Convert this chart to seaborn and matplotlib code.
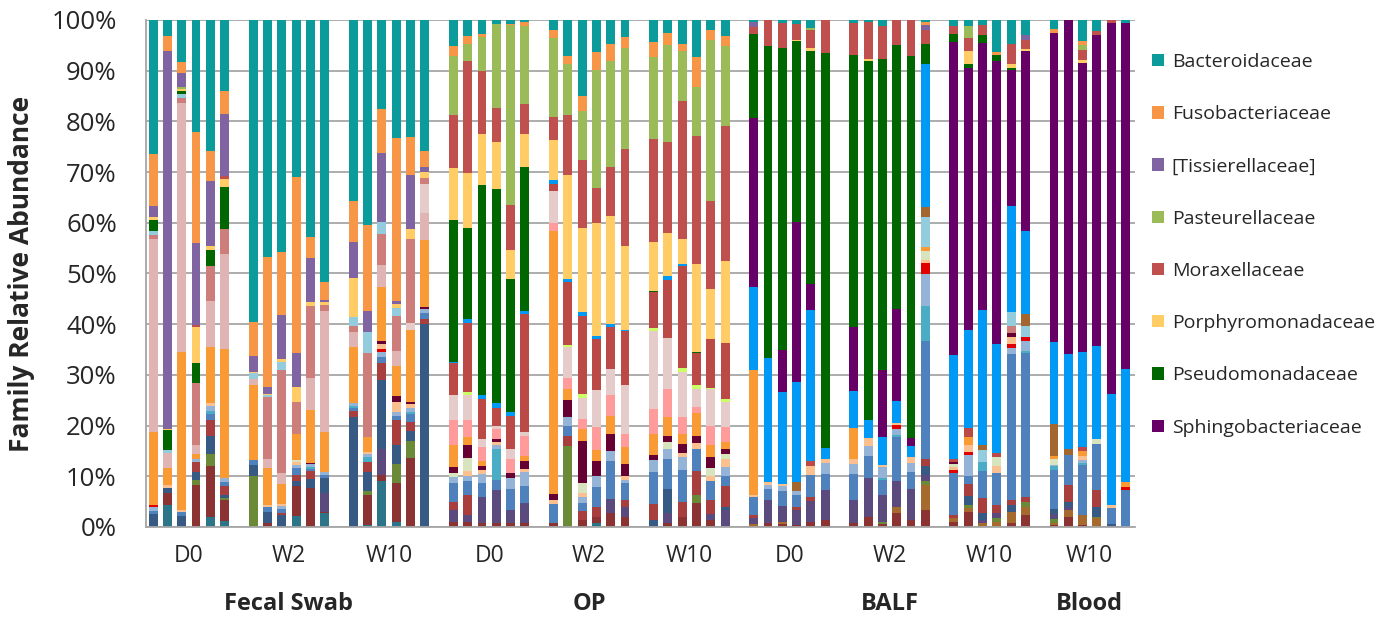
import pandas as pd
import numpy as np
import matplotlib
matplotlib.use("Agg")
import matplotlib.pyplot as plt
import seaborn as sns
from matplotlib.patches import Patch

sns.set_theme(style="white")
plt.rcParams['font.family'] = ['Open Sans', 'DejaVu Sans']

# groups of 6 samples, one empty slot between groups
time_labels = ["D0", "W2", "W10", "D0", "W2", "W10", "D0", "W2", "W10", "W10"]
sample_types = ["Fecal Swab", "OP", "BALF", "Blood"]
type_groups = [[0, 1, 2], [3, 4, 5], [6, 7, 8], [9]]
n_per_group = 6

# families, top of stack first (legend shows the first 8)
families = ["Bacteroidaceae", "Fusobacteriaceae", "[Tissierellaceae]", "Pasteurellaceae",
            "Moraxellaceae", "Porphyromonadaceae", "Pseudomonadaceae", "Sphingobacteriaceae",
            "Flavobacteriaceae", "Neisseriaceae", "Staphylococcaceae", "Corynebacteriaceae",
            "Micrococcaceae", "Lachnospiraceae", "Prevotellaceae", "Clostridiaceae",
            "Streptococcaceae", "Peptostreptococcaceae", "Veillonellaceae", "Carnobacteriaceae",
            "Actinomycetaceae", "Enterobacteriaceae", "Comamonadaceae", "Weeksellaceae",
            "Bradyrhizobiaceae", "Ruminococcaceae", "Erysipelotrichaceae", "Helicobacteraceae",
            "Lactobacillaceae", "Caulobacteraceae", "Coriobacteriaceae", "Other"]
colors = ["#0B9B9B", "#F79646", "#8064A2", "#9BBB59",
          "#C0504D", "#FFCC66", "#006600", "#660066",
          "#0099F5", "#BB4A47", "#CCFF66", "#A3662F",
          "#93CDDD", "#CD7D7A", "#E6CBCB", "#DFB4B2",
          "#FF9B9B", "#FA9A35", "#660033", "#D7E4BD",
          "#FAC090", "#E00000", "#95B3D7", "#4BACC6",
          "#4F81BD", "#A83E3E", "#375A85", "#5A4A7E",
          "#6B8A38", "#A66A2E", "#8B3232", "#2C7487"]

# relative abundance (%) per sample, 60 samples each
bacteroidaceae = [26.3, 3.2, 8.3, 22.1, 25.9, 14.0, 59.7, 46.7, 45.9, 31.0, 42.8, 51.7,
                  35.7, 40.3, 17.5, 23.3, 23.2, 25.9, 5.2, 3.2, 2.8, 0.8, 0.8, 0.3,
                  1.9, 7.2, 15.0, 6.3, 4.7, 3.3, 4.3, 2.5, 4.8, 7.3, 1.9, 3.2,
                  0.4, 0, 0.5, 0.8, 1.5, 0, 0.5, 0.4, 1.2, 0, 0, 0.3,
                  1.2, 1.2, 1.0, 6.3, 4.7, 3.0, 1.7, 0, 4.1, 2.1, 0, 0.5]
fusobacteriaceae = [10.2, 2.9, 2.2, 21.9, 5.8, 4.5, 6.7, 25.7, 12.5, 34.9, 4.2, 3.5,
                    8.1, 16.9, 8.7, 32.1, 7.5, 3.1, 2.0, 1.6, 0.5, 0, 0.2, 0.9,
                    1.6, 1.5, 2.9, 3.5, 3.3, 2.3, 3.0, 2.5, 1.3, 5.9, 2.0, 2.0,
                    0, 0, 0, 0, 0, 0, 0, 0, 0, 0, 0, 0.7,
                    0, 0, 0, 0.7, 0, 0, 0.9, 0, 0.9, 0, 0, 0]
tissierellaceae = [2.2, 73.6, 2.8, 16.2, 12.9, 12.1, 3.1, 1.3, 8.9, 6.7, 8.7, 0.5,
                   7.1, 4.3, 13.7, 0.7, 10.5, 1.0] + [0] * 18 + \
                  [1.0, 0, 0, 0, 0, 0, 0, 0, 0, 0, 0, 0.9,
                   0, 0, 0, 0, 0, 1.0, 0, 0, 0, 0, 0, 0]
pasteurellaceae = [0, 0, 0.3, 0, 0, 0] + [0] * 12 + \
                  [11.6, 3.3, 6.7, 16.5, 35.5, 15.3, 15.7, 10.1, 9.8, 23.3, 20.8, 19.8,
                   16.1, 19.1, 9.9, 9.6, 31.8, 15.6, 0, 0, 0, 0, 0.5, 0,
                   0, 0, 0, 0, 0, 0, 0, 2.3, 0, 0, 0, 0, 0, 0, 0.9, 0, 0, 0]
moraxellaceae = [0, 0, 0, 0.3, 0, 0.7] + [0] * 12 + \
                [10.5, 22.1, 12.5, 6.8, 8.9, 6.0, 4.5, 11.9, 13.3, 6.8, 9.7, 19.1,
                 20.4, 17.9, 27.2, 25.3, 17.3, 26.7, 1.3, 5.2, 5.1, 3.1, 3.6, 6.5,
                 6.5, 7.3, 6.5, 5.0, 7.0, 2.9, 1.6, 2.7, 2.0, 0, 3.9, 1.7,
                 0, 0, 2.0, 0.9, 0.5, 0]
porphyromonadaceae = [0.5, 0.3, 0.5, 7.1, 0.8, 1.6, 0.3, 0.3, 0.6, 2.9, 0.7, 0.5,
                      7.7, 0, 0, 0.7, 2.0, 1.2, 10.3, 10.8, 10.0, 9.2, 5.7, 6.5,
                      8.0, 20.5, 16.7, 22.3, 21.3, 16.5, 9.5, 8.5, 4.8, 17.2, 10.0, 16.2,
                      0, 0, 0, 0.3, 0.5, 0, 0, 0.3, 0, 0, 0, 0,
                      0, 2.5, 0, 0, 0.8, 0.5, 0, 0, 0.5, 0, 0, 0]
pseudomonadaceae = [2.2, 3.9, 0.5, 4.0, 3.0, 8.3] + [0] * 12 + \
                   [28.0, 18.0, 41.5, 42.3, 26.3, 28.5] + [0] * 6 + \
                   [0.3, 0, 0, 0.3, 0, 0, 16.7, 61.5, 59.5, 35.7, 46.0, 77.8,
                    53.5, 71.0, 61.3, 52.0, 75.3, 3.9, 1.5, 0.7, 1.5, 1.0, 0.5, 0] + [0] * 6
sphingobacteriaceae = [0] * 36 + \
                      [33.3, 0, 8.3, 31.5, 5.1, 0, 12.7, 0, 13.1, 18.0, 1.7, 0,
                       61.8, 51.9, 52.7, 55.9, 26.7, 35.5, 61.1, 65.9, 57.1, 61.3, 73.2, 68.2]
flavobacteriaceae = [0] * 18 + \
                    [0.3, 0.7, 0.8, 0.9, 0.7, 0.5, 0.7, 0.5, 0.7, 0.7, 0.5, 0.3,
                     0, 0.8, 0.5, 0, 0, 0, 16.3, 24.5, 18.1, 19.9, 29.8, 2.2,
                     7.3, 3.5, 5.5, 4.5, 2.1, 28.3, 20.5, 19.3, 26.7, 21.6, 21.1, 16.3,
                     16.2, 18.7, 18.9, 18.3, 22.0, 22.4]
neisseriaceae = [0] * 18 + \
                [6.3, 13.7, 8.0, 3.6, 6.7, 23.3, 1.5, 12.5, 15.5, 10.0, 8.2, 10.5,
                 7.0, 11.3, 20.1, 6.3, 9.5, 11.0, 0, 0, 0, 0, 1.0, 0,
                 0, 0, 0, 0, 0, 0, 0.5, 1.8, 0, 0.7, 0, 0, 0, 0, 0.7, 0, 0, 0]
staphylococcaceae = [0] * 18 + [0, 0.5, 0, 0, 0, 0, 0, 0.4, 0.8, 0, 0, 0,
                                0.7, 0, 0.8, 0.7, 0.3, 0.5] + [0] * 24
corynebacteriaceae = [0] * 36 + [0, 0, 0, 1.8, 0, 0, 0, 0, 0, 0, 0, 1.9,
                                 0, 0, 1.1, 0, 0, 2.3, 6.3, 1.3, 0, 0, 0, 0]
micrococcaceae = [0.7, 0.5, 0.8, 0, 0, 0, 1.0, 0.4, 1.5, 0, 0, 0,
                  1.8, 4.0, 2.3, 1.5, 0, 0] + [0] * 24 + \
                 [0, 0, 0, 0, 0, 5.9, 0, 0, 2.3, 0, 2.7, 2.2] + [0] * 6
lachnospiraceae = [0.9, 0, 0.9, 12.3, 7.0, 4.8, 0, 12.3, 20.5, 6.3, 14.3, 1.3,
                   1.2, 16.6, 6.2, 7.0, 16.7, 1.1] + [0] * 34 + [1.3, 0] + [0] * 6
prevotellaceae = [0] * 12 + [0, 0, 0, 0, 1.3, 5.8,
                             4.9, 5.1, 1.5, 0.5, 1.9, 0.8, 6.3, 6.0, 4.0, 7.3, 5.2, 9.8,
                             15.3, 10.1, 8.9, 3.5, 7.3, 5.1] + [0] * 24
clostridiaceae = [37.8, 3.0, 49.1, 1.7, 9.0, 18.8, 1.2, 1.7, 2.0, 0, 6.3, 23.9,
                  3.0, 0, 4.2, 3.0, 0, 5.3] + [0] * 42
streptococcaceae = [0] * 18 + [4.9, 3.2, 2.7, 2.1, 2.7, 4.0, 1.5, 2.2, 2.0, 4.4, 4.1, 2.5,
                               4.9, 5.5, 3.3, 1.3, 3.7, 2.8] + [0] * 24
peptostreptococcaceae = [14.4, 3.3, 31.2, 1.0, 11.0, 25.2, 14.8, 7.3, 4.1, 5.2, 10.3, 7.9,
                         11.0, 2.9, 10.8, 5.8, 14.3, 13.3, 4.5, 1.7, 1.0, 0, 0, 0.9,
                         52.1, 2.3, 2.5, 2.2, 3.6, 3.3, 4.1, 3.7, 2.0, 4.5, 2.5, 1.5,
                         24.7, 0, 0, 0, 0, 0, 6.1, 0, 0, 0, 0, 0.8,
                         0, 1.5, 0, 0, 0, 0, 0.5, 0, 0.9, 0, 0, 0.9]
veillonellaceae = [0] * 10 + [0.3, 0, 0, 0, 0.5, 1.2, 0.4, 0.3,
                              1.2, 2.5, 0.9, 0.5, 1.0, 1.5, 1.3, 3.3, 8.2, 2.9, 3.3, 2.3,
                              1.0, 1.3, 1.7, 1.3, 2.0, 1.0] + [0] * 12 + \
                  [0.5, 0, 0, 0, 0.9, 0] + [0] * 6
carnobacteriaceae = [0] * 9 + [0.4, 0, 0] + [0] * 6 + \
                    [0.7, 2.5, 0, 0, 0, 0, 0, 0, 2.0, 0, 0, 0,
                     0, 1.3, 0, 0, 1.7, 1.0, 0, 0, 0, 0, 0, 0,
                     0, 0, 0, 0, 0, 1.7, 0.5, 0, 0, 1.8, 0, 0, 1.2, 0, 0, 1.0, 0, 0]
actinomycetaceae = [0, 0.5, 0.4, 0, 0.7, 0, 0, 0.3, 0.4, 0.5, 0, 0,
                    0, 0.5, 1.0, 2.1, 0.8, 0, 0, 1.0, 0.8, 0.7, 0, 0.7,
                    0.7, 0, 0.7, 0, 0, 0.8, 0, 0, 0.8, 1.3, 1.0, 1.5,
                    0.3, 0.7, 0.5, 0, 1.7, 0.8, 1.0, 1.5, 0.5, 0.4, 1.2, 0.7,
                    0.7, 1.5, 0, 1.5, 1.3, 0, 0, 0, 0.8, 0, 0.5, 0]
enterobacteriaceae = [0.3, 0, 0, 0, 0, 0, 0, 0, 0, 0, 0, 0,
                      0, 0, 0.5, 0, 0, 0] + [0] * 27 + \
                     [0.7, 0, 2.1, 0.5, 0.5, 0, 0, 0.9, 0.8, 0, 0, 0, 0, 0, 0.7]
comamonadaceae = [0.8, 0, 0, 0.6, 1.0, 0.8, 0, 0, 0.5, 0.7, 0.5, 0.6,
                  0.6, 0.5, 1.0, 0.8, 0.8, 0.8, 1.2, 1.1, 1.7, 0.7, 2.3, 2.8,
                  0, 1.8, 1.3, 2.2, 1.9, 0.7, 2.3, 2.0, 2.5, 0, 0, 1.8,
                  0, 0.7, 0.9, 0.7, 0, 2.1, 2.0, 2.1, 2.2, 1.1, 1.7, 6.3,
                  0, 4.1, 0, 0, 1.1, 1.9, 0.3, 0, 0.7, 0, 0, 0]
weeksellaceae = [0, 0, 0, 0, 0.5, 0, 0, 0, 0, 0, 0.4, 0,
                 0.5, 1.0, 0, 0, 0.4, 0, 0, 0, 0, 6.1, 0, 0] + [0] * 18 + \
                [0, 0, 0.3, 0.5, 0, 6.9, 0, 0, 1.7, 0, 0, 0.5, 0.8, 0, 0.3, 0, 0, 0]
bradyrhizobiaceae = [0.6, 0, 0.8, 0, 1.3, 0.9, 1.0, 1.0, 0.8, 1.3, 0.4, 0.5,
                     0.6, 0, 1.3, 0.7, 1.5, 1.2, 3.7, 2.7, 2.7, 2.0, 4.0, 3.3,
                     3.9, 2.0, 1.5, 3.9, 7.6, 3.3, 6.3, 6.0, 6.3, 4.3, 3.7, 2.0,
                     3.7, 2.1, 3.0, 2.3, 4.3, 3.2, 5.0, 4.2, 3.0, 8.7, 3.5, 23.3,
                     8.3, 1.7, 5.3, 6.2, 28.8, 28.4, 7.7, 5.8, 10.0, 9.0, 3.3, 7.2]
ruminococcaceae = [0, 0, 0, 2.0, 3.0, 1.7, 0, 0, 0.5, 1.3, 1.7, 0,
                   1.0, 2.0, 3.3, 5.0, 1.7, 1.0, 1.7, 4.0, 0, 0, 0, 0,
                   0, 2.0, 1.9, 2.0, 0, 1.3, 3.3, 0, 3.0, 4.7, 2.7, 4.0,
                   0.5, 0, 0, 0.7, 0.8, 0, 0, 0, 0, 0, 0, 1.5,
                   0.7, 2.3, 3.0, 1.7, 1.0, 0.9, 0, 3.3, 0, 3.3, 0, 0]
erysipelotrichaceae = [2.5, 1.0, 2.2, 1.5, 3.7, 0.7, 2.2, 2.3, 2.3, 1.0, 1.7, 3.0,
                       21.8, 3.7, 13.7, 3.7, 2.0, 40.0] + [0] * 12 + \
                      [1.3, 4.7, 0, 0, 0, 0.7] + [0] * 11 + [1.7] + \
                      [0, 1.7, 1.5, 0, 1.3, 0, 1.0, 1.0, 0, 2.0, 0.5, 0]
helicobacteraceae = [0] * 11 + [3.7, 0, 0, 5.0, 0, 0, 0,
                                2.3, 1.3, 5.3, 6.6, 2.7, 4.0, 0, 0, 0, 0, 2.7, 2.0,
                                0, 2.0, 0, 0, 1.3, 3.3, 1.3, 4.7, 3.1, 3.0, 4.2, 6.0,
                                4.7, 7.7, 5.3, 5.0, 6.1, 1.3, 0, 0, 0.5, 1.0, 0, 0,
                                0.9, 0.7, 0, 0, 0, 0]
lactobacillaceae = [0, 0, 0, 1.0, 2.3, 0.4, 10.1, 0, 0, 0, 0, 0,
                    0, 0.8, 0, 3.7, 3.3, 0] + [0] * 7 + [15.9, 0, 0, 0, 0,
                                                        0, 0, 0, 1.5, 0, 0] + [0] * 8 + \
                   [0.5, 0, 0, 0.7, 0, 0.7, 0, 0.7, 0, 1.0, 0.8, 0, 0, 0.3, 0, 0]
caulobacteraceae = [0] * 36 + [0.5, 0, 0.5, 0, 0, 0, 0, 0, 0, 1.3, 0, 5.0,
                               0.7, 0.7, 0.8, 1.0, 2.3, 1.7, 0.4, 1.3, 2.0, 1.7, 0, 0]
coriobacteriaceae = [0, 2.3, 0, 8.3, 10.0, 4.0, 0, 0.7, 0, 5.9, 7.7, 0.3,
                     0, 5.9, 1.3, 7.7, 13.7, 0, 1.0, 1.0, 0.7, 0.7, 0.7, 0.7,
                     0.7, 0, 1.3, 1.2, 2.7, 2.0, 0, 0.7, 2.0, 4.8, 1.3, 0,
                     0, 0.7, 0.5, 0.3, 1.0, 1.3, 0.7, 2.0, 0.5, 2.7, 1.3, 3.3,
                     1.0, 3.0, 0, 0, 0.7, 2.3, 0.4, 2.0, 0.3, 0, 0, 0]
other = [0, 4.3, 0, 0, 2.0, 1.2, 0, 0, 0, 2.1, 0, 2.7,
         0, 0.4, 9.0, 1.0, 0, 0] + [0] * 9 + [0.8] + [0] * 32

series = [bacteroidaceae, fusobacteriaceae, tissierellaceae, pasteurellaceae,
          moraxellaceae, porphyromonadaceae, pseudomonadaceae, sphingobacteriaceae,
          flavobacteriaceae, neisseriaceae, staphylococcaceae, corynebacteriaceae,
          micrococcaceae, lachnospiraceae, prevotellaceae, clostridiaceae,
          streptococcaceae, peptostreptococcaceae, veillonellaceae, carnobacteriaceae,
          actinomycetaceae, enterobacteriaceae, comamonadaceae, weeksellaceae,
          bradyrhizobiaceae, ruminococcaceae, erysipelotrichaceae, helicobacteraceae,
          lactobacillaceae, caulobacteraceae, coriobacteriaceae, other]

n_samples = len(time_labels) * n_per_group
wide = pd.DataFrame({f: np.asarray(v, dtype=float) for f, v in zip(families, series)})
assert wide.shape == (n_samples, len(families)), wide.shape
wide = wide.div(wide.sum(axis=1), axis=0) * 100
idx = np.arange(n_samples)
wide["slot"] = (idx // n_per_group) * (n_per_group + 1) + idx % n_per_group
df = wide.melt(id_vars="slot", var_name="family", value_name="value")

fig = plt.figure(figsize=(13.9, 6.17), dpi=100)
ax = fig.add_axes([0.105, 0.146, 0.7115, 0.8216])

sns.histplot(data=df, x="slot", weights="value", hue="family", hue_order=families,
             palette=colors, multiple="stack", discrete=True, shrink=0.62,
             linewidth=0, alpha=1, legend=False, ax=ax)

ax.set_xlim(-0.5, 68.66)
ax.set_ylim(0, 100)
ax.set_yticks(range(0, 101, 10))
ax.set_yticklabels([f"{v}%" for v in range(0, 101, 10)], fontsize=18.5)
ax.yaxis.grid(True, color="#A6A6A6", linewidth=1.3)
ax.set_axisbelow(True)
for s in ["top", "right"]:
    ax.spines[s].set_visible(False)
for s in ["left", "bottom"]:
    ax.spines[s].set_color("#A6A6A6")
    ax.spines[s].set_linewidth(1.3)
ax.tick_params(axis="y", length=0, pad=21)
ax.tick_params(axis="x", length=0, pad=12)

centers = [g * (n_per_group + 1) + (n_per_group - 1) / 2 for g in range(len(time_labels))]
ax.set_xticks(centers)
ax.set_xticklabels(time_labels, fontsize=16.5)
ax.set_xlabel("")
ax.set_ylabel("Family Relative Abundance", fontsize=19, fontweight="bold", labelpad=12)

for name, grp in zip(sample_types, type_groups):
    xc = np.mean([centers[g] for g in grp])
    ax.text(xc, -0.152, name, transform=ax.get_xaxis_transform(), ha="center", va="center",
            fontsize=17, fontweight="bold")

handles = [Patch(facecolor=c, edgecolor="none") for c in colors[:8]]
fig.legend(handles, families[:8], loc="upper left", bbox_to_anchor=(0.829, 0.914),
           frameon=False, fontsize=14, handlelength=0.6, handleheight=0.6,
           handletextpad=0.4, labelspacing=1.76, borderpad=0, borderaxespad=0)

fig.savefig("out.png", dpi=100)
